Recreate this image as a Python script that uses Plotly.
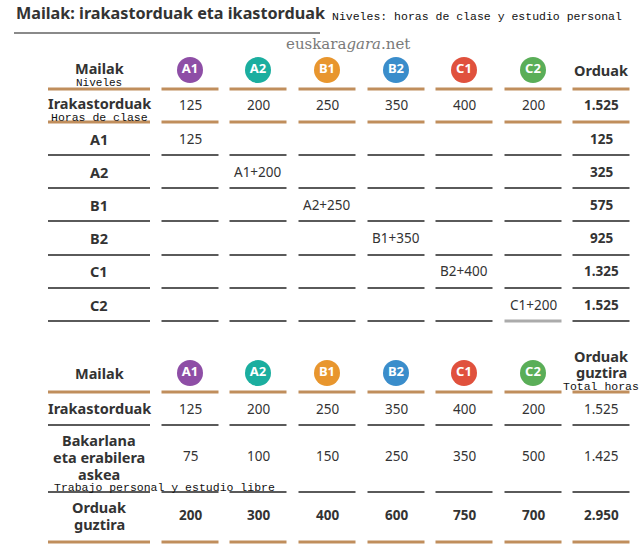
import plotly.graph_objects as go

# ---------------- data ----------------
levels = ["A1", "A2", "B1", "B2", "C1", "C2"]
class_hours = [125, 200, 250, 350, 400, 200]
class_total = 1525
step_rows = ["A1", "A2", "B1", "B2", "C1", "C2"]
step_labels = ["125", "A1+200", "A2+250", "B1+350", "B2+400", "C1+200"]
step_totals = [125, 325, 575, 925, 1325, 1525]
personal_hours = [75, 100, 150, 250, 350, 500]
personal_total = 1425
total_hours = [200, 300, 400, 600, 750, 700]
grand_total = 2950

title = "Mailak: irakastorduak eta ikastorduak"
subtitle = "Niveles: horas de clase y estudio personal"
source = "euskara<i>gara</i>.net"

# ---------------- style / layout ----------------
W, H = 640, 551
level_colors = ["#8E4EA6", "#1BAE9F", "#E8962E", "#3A8DCB", "#E0513D", "#5AAE58"]
TAN = "#C08E5C"
GRAY = "#5a5a5a"
LIGHT = "#ababab"
DARK = "#333333"
SANS = "Noto Sans"
MONO = "Liberation Mono"

label_x = 99
label_span = (48, 150)
col_x = [190, 258, 327, 396, 464, 533]
col_half = 28.5
total_x = 601

def fmt(v):
    return f"{v:,}".replace(",", ".")

fig = go.Figure()
ann = []
shapes = []

def text(x, y, t, size=14, bold=False, color=DARK, family=SANS, xanchor="center"):
    ann.append(dict(x=x, y=y, xref="x", yref="y", text=(f"<b>{t}</b>" if bold else t),
                    showarrow=False, xanchor=xanchor, yanchor="middle",
                    font=dict(size=size, color=color, family=family)))

def hline(x0, x1, y, color, width):
    shapes.append(dict(type="line", xref="x", yref="y", x0=x0, x1=x1, y0=y, y1=y,
                       line=dict(color=color, width=width)))

def row_lines(y, color, width, last_col_color=None):
    hline(label_span[0], label_span[1], y, color, width)
    for i, cx in enumerate(col_x):
        c = color
        w = width
        if last_col_color and i == len(col_x) - 1:
            c, w = last_col_color, 3
        hline(cx - col_half, cx + col_half, y, c, w)
    hline(total_x - col_half, total_x + col_half, y, color, width)

# title
text(14, 13, title, size=16.2, bold=True, xanchor="left")
hline(14, 320, 33, "#8a8a8a", 2)
text(330, 16, subtitle, size=11.5, family=MONO, color="#111", xanchor="left")
text(348, 44, source, size=15, family="DejaVu Serif", color="#7a7a7a")

# -------- table 1 --------
hy1 = 70
text(label_x, 68, "Mailak", size=14.5, bold=True)
text(label_x, 83, "Niveles", size=11, family=MONO, color="#111")
text(total_x, 70, "Orduak", size=14.5, bold=True)
row_lines(89, TAN, 3)

text(label_x, 103, "Irakastorduak", size=14.5, bold=True)
text(label_x, 117, "Horas de clase", size=11.5, family=MONO, color="#111")
for cx, v in zip(col_x, class_hours):
    text(cx, 105, fmt(v), size=13.5)
text(total_x, 105, fmt(class_total), size=13.5, bold=True)
row_lines(122, TAN, 3)

row_y = [139, 172, 205, 238, 271, 305]
line_y = [155, 188, 221, 255, 288, 321]
for i, (name, lab, tot) in enumerate(zip(step_rows, step_labels, step_totals)):
    y = row_y[i]
    text(label_x, y, name, size=14.5, bold=True)
    text(col_x[i], y, lab, size=13.5)
    text(total_x, y, fmt(tot), size=13.5, bold=True)
    row_lines(line_y[i], GRAY, 2, last_col_color=LIGHT if i == len(step_rows) - 1 else None)

# -------- table 2 --------
hy2 = 373
text(label_x, 373, "Mailak", size=14.5, bold=True)
text(total_x, 356, "Orduak", size=14.5, bold=True)
text(total_x, 372, "guztira", size=14.5, bold=True)
text(total_x, 386, "Total horas", size=11.5, family=MONO, color="#111")
row_lines(392, TAN, 3)

text(label_x, 408, "Irakastorduak", size=14.5, bold=True)
for cx, v in zip(col_x, class_hours):
    text(cx, 409, fmt(v), size=13.5)
text(total_x, 409, fmt(class_total), size=13.5)
row_lines(425, GRAY, 2)

text(label_x, 440, "Bakarlana", size=14.5, bold=True)
text(label_x, 457, "eta erabilera", size=14.5, bold=True)
text(label_x, 474, "askea", size=14.5, bold=True)
text(52, 487, "Trabajo personal y estudio libre", size=11.5, family=MONO, color="#111", xanchor="left")
for cx, v in zip(col_x, personal_hours):
    text(cx, 456, fmt(v), size=13.5)
text(total_x, 456, fmt(personal_total), size=13.5)
row_lines(492, GRAY, 2)

text(label_x, 507, "Orduak", size=14.5, bold=True)
text(label_x, 524, "guztira", size=14.5, bold=True)
for cx, v in zip(col_x, total_hours):
    text(cx, 515, fmt(v), size=13.5, bold=True)
text(total_x, 515, fmt(grand_total), size=13.5, bold=True)
row_lines(542, TAN, 3)

# level circles (both tables)
for hy in (hy1, hy2):
    fig.add_trace(go.Scatter(
        x=col_x, y=[hy] * len(levels), mode="markers+text",
        marker=dict(size=26, color=level_colors, line=dict(width=0)),
        text=[f"<b>{l}</b>" for l in levels], textposition="middle center",
        textfont=dict(color="white", size=13, family=SANS),
        hoverinfo="skip", showlegend=False))

fig.update_layout(
    width=W, height=H, margin=dict(l=0, r=0, t=0, b=0),
    paper_bgcolor="white", plot_bgcolor="white",
    xaxis=dict(range=[0, W], visible=False, fixedrange=True),
    yaxis=dict(range=[H, 0], visible=False, fixedrange=True),
    annotations=ann, shapes=shapes, showlegend=False,
)
fig.write_html("out.html", config={"displayModeBar": False},
               post_script="document.body.style.margin='0';")
